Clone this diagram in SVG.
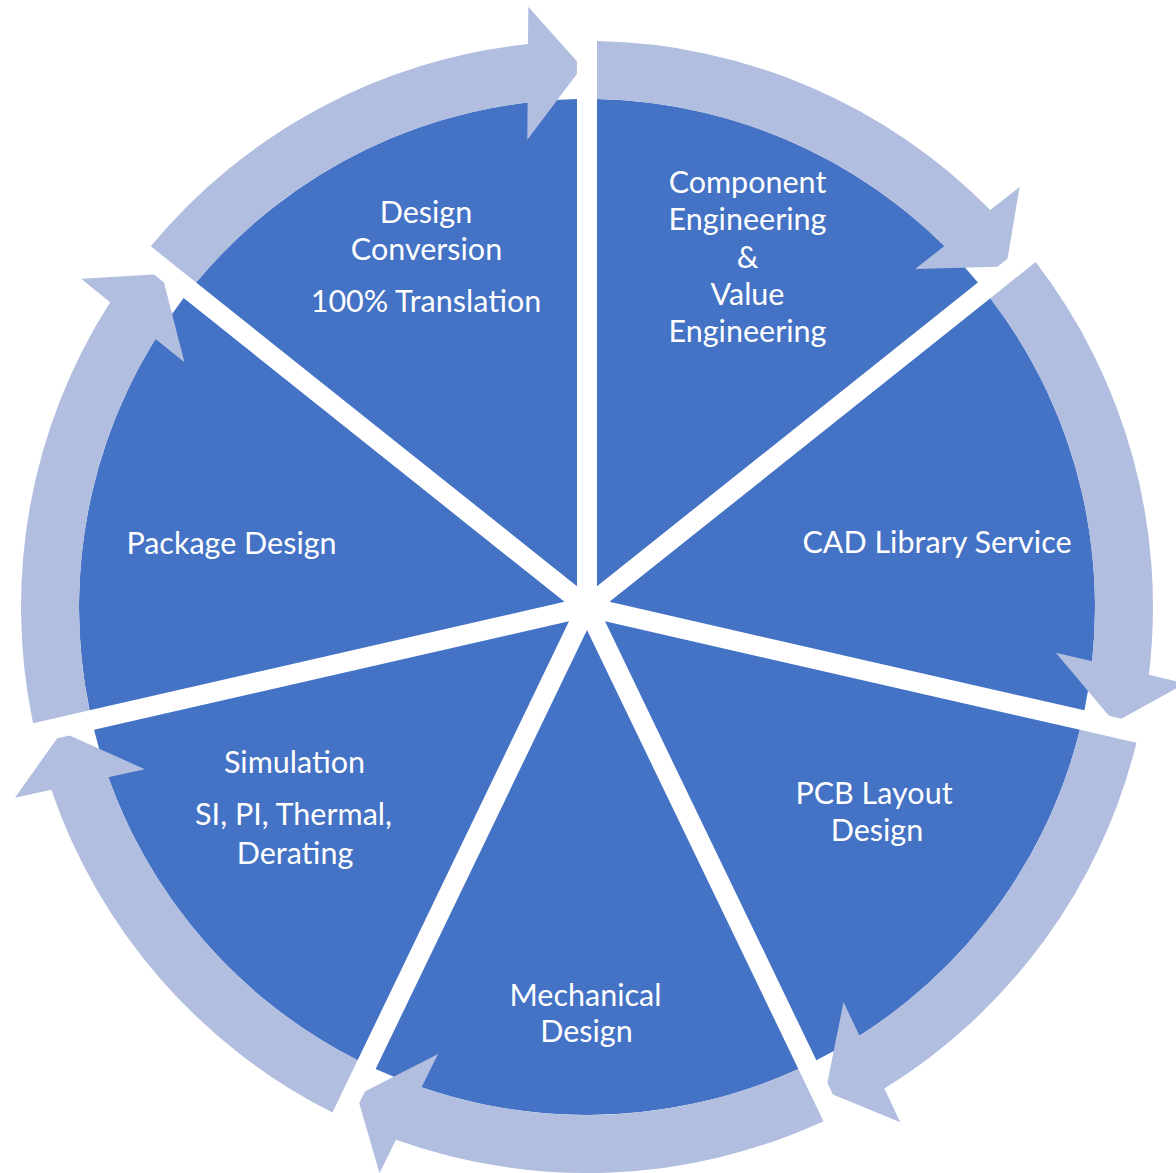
<svg xmlns="http://www.w3.org/2000/svg" xmlns:xlink="http://www.w3.org/1999/xlink" width="1176" height="1173" viewBox="0 0 1176 1173">
  <style>
    .wedge { fill: #4472C4; }
    .arrow { fill: #B2BEE0; }
    .label { font-family: Lato, "Open Sans", sans-serif; font-size: 30.5px; fill: #FFFFFF; text-anchor: middle; }
  </style>
  <defs>
    <path id="wedgeShape" d="M10,-20.77 L10,-507.9 A508,508 0 0 1 390.9,-324.5 Z"/>
    <path id="arrowShape" d="M10,-565.9 A566,566 0 0 1 403.3,-397.1 L432.6,-420.1 L420.5,-348.2 L410.4,-340.2 L328.1,-338.0 L357.4,-361.0 A508,508 0 0 0 10,-507.9 Z"/>
  </defs>
  <rect x="0" y="0" width="1176" height="1173" fill="#FFFFFF"/>

  <g id="segments" transform="translate(587,607)">
    <g id="node-component"><use xlink:href="#wedgeShape" class="wedge"/></g>
    <g id="node-cad"><use xlink:href="#wedgeShape" class="wedge" transform="rotate(51.4286)"/></g>
    <g id="node-pcb"><use xlink:href="#wedgeShape" class="wedge" transform="rotate(102.8571)"/></g>
    <g id="node-mechanical"><use xlink:href="#wedgeShape" class="wedge" transform="rotate(154.2857)"/></g>
    <g id="node-simulation"><use xlink:href="#wedgeShape" class="wedge" transform="rotate(205.7143)"/></g>
    <g id="node-package"><use xlink:href="#wedgeShape" class="wedge" transform="rotate(257.1429)"/></g>
    <g id="node-conversion"><use xlink:href="#wedgeShape" class="wedge" transform="rotate(308.5714)"/></g>
  </g>

  <g id="connectors" transform="translate(587,607)">
    <use xlink:href="#arrowShape" class="arrow"/>
    <use xlink:href="#arrowShape" class="arrow" transform="rotate(51.4286)"/>
    <use xlink:href="#arrowShape" class="arrow" transform="rotate(102.8571)"/>
    <use xlink:href="#arrowShape" class="arrow" transform="rotate(154.2857)"/>
    <use xlink:href="#arrowShape" class="arrow" transform="rotate(205.7143)"/>
    <use xlink:href="#arrowShape" class="arrow" transform="rotate(257.1429)"/>
    <use xlink:href="#arrowShape" class="arrow" transform="rotate(308.5714)"/>
  </g>

  <g id="labels">
    <g id="label-conversion">
      <text class="label" x="426" y="223">Design</text>
      <text class="label" x="426.5" y="260">Conversion</text>
      <text class="label" x="426" y="312">100% Translation</text>
    </g>
    <g id="label-component">
      <text class="label" x="747.5" y="193">Component</text>
      <text class="label" x="747.5" y="230">Engineering</text>
      <text class="label" x="747.5" y="268">&amp;</text>
      <text class="label" x="747.5" y="305">Value</text>
      <text class="label" x="747.5" y="342">Engineering</text>
    </g>
    <g id="label-cad">
      <text class="label" x="937" y="553">CAD Library Service</text>
    </g>
    <g id="label-pcb">
      <text class="label" x="874" y="804">PCB Layout</text>
      <text class="label" x="877" y="841">Design</text>
    </g>
    <g id="label-mechanical">
      <text class="label" x="585.5" y="1006">Mechanical</text>
      <text class="label" x="586.5" y="1042">Design</text>
    </g>
    <g id="label-simulation">
      <text class="label" x="294.5" y="773">Simulation</text>
      <text class="label" x="293.5" y="825">SI, PI, Thermal,</text>
      <text class="label" x="295" y="864">Derating</text>
    </g>
    <g id="label-package">
      <text class="label" x="231.5" y="554">Package Design</text>
    </g>
  </g>
</svg>
